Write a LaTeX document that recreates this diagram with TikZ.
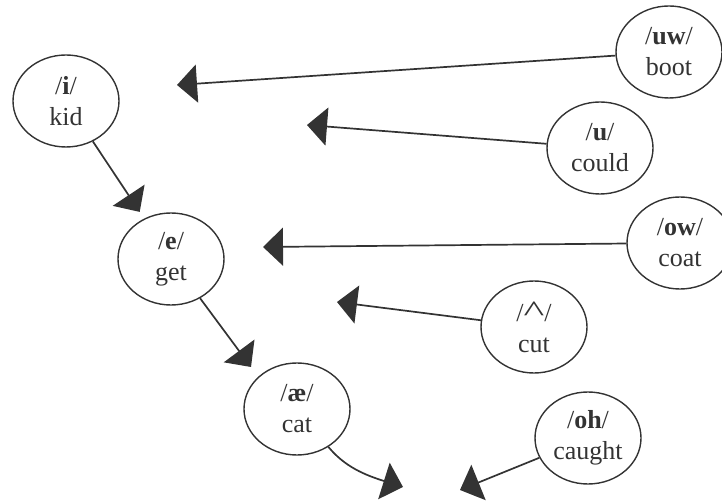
\documentclass[tikz,border=0pt]{standalone}
\usepackage{fontspec}
\usepackage{graphicx}
\setmainfont{Liberation Serif}
\usetikzlibrary{positioning, arrows.meta, shapes}
\definecolor{vowelInk}{HTML}{333333}
\tikzstyle{vowel} =[ellipse, draw=vowelInk, line width=0.7pt, minimum width=53pt, minimum height=46pt, inner sep=0pt, align=center, text=vowelInk, font=\fontsize{13}{15.5}\selectfont]
\tikzstyle{vowelShift} =[-{Triangle[length=10pt, width=19pt]}, line width=0.85pt, vowelInk]
\newcommand{\bigcaret}{\scalebox{1.7}[1.15]{\textasciicircum}}

\begin{document}
\begin{tikzpicture}[x=0.5pt, y=-0.5pt]
\useasboundingbox (0,0) rectangle (722,501);

\node (kid) [vowel] at (66,101) {/\textbf{i}/\\kid};
\node (get) [vowel] at (171,259) {/\textbf{e}/\\get};
\node (cat) [vowel] at (297,409) {/\textbf{æ}/\\cat};

\node (boot) [vowel] at (669,52) {/\textbf{uw}/\\boot};
\node (could) [vowel] at (600,148) {/\textbf{u}/\\could};
\node (coat) [vowel] at (680,243) {/\textbf{ow}/\\coat};
\node (cut) [vowel] at (534,327) {/\bigcaret/\\cut};
\node (caught) [vowel] at (588,438) {/\textbf{oh}/\\caught};

% free ends of the arrows
\coordinate (bootTip) at (177,85);
\coordinate (couldTip) at (307,125);
\coordinate (coatTip) at (263,247);
\coordinate (cutTip) at (337,302);
\coordinate (getTip) at (251,367);
\coordinate (catTip) at (403,487);
\coordinate (caughtTip) at (460,490);

\draw[vowelShift]
	(kid) edge [shorten >=4pt] (get);

\draw[vowelShift]
	(get) edge (getTip);

\draw[vowelShift]
	(cat) .. controls (345,467) and (365,475) .. (catTip);

\draw[vowelShift]
	(boot) edge (bootTip);

\draw[vowelShift]
	(could) edge (couldTip);

\draw[vowelShift]
	(coat) edge (coatTip);

\draw[vowelShift]
	(cut) edge (cutTip);

\draw[vowelShift]
	(caught) edge (caughtTip);

\end{tikzpicture}
\end{document}
